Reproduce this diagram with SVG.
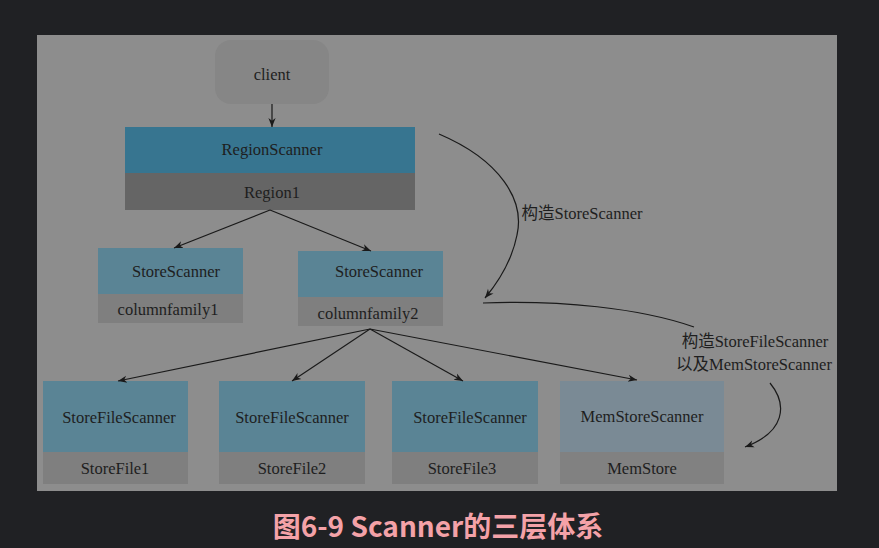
<svg xmlns="http://www.w3.org/2000/svg" width="879" height="548" viewBox="0 0 879 548">
<style>
text{font-family:"Liberation Serif","Times New Roman","Noto Sans CJK SC",serif;font-size:16.5px;fill:#1e1e1e;text-anchor:middle}
.top{fill:#5a8495}
.bot{fill:#7f7f7f}
.e{fill:none;stroke:#1a1a1a;stroke-width:1.2}
.title{font-family:"Noto Sans CJK SC","Noto Sans",sans-serif;font-size:28px;font-weight:bold;fill:#f4a2a8}
</style>
<defs>
<marker id="ah" viewBox="0 0 10 10" refX="10" refY="5" markerWidth="9" markerHeight="9" markerUnits="userSpaceOnUse" orient="auto">
<path d="M0,1 L10,5 L0,9 L3,5 z" fill="#1a1a1a"/>
</marker>
</defs>
<rect width="879" height="548" fill="#202124"/>
<rect x="37" y="35" width="800" height="456" fill="#8d8d8d"/>
<g id="client">
<rect x="215" y="40" width="114" height="64" rx="16" fill="#868686"/>
<text x="272" y="80">client</text>
</g>
<g id="region">
<rect x="125" y="127" width="290" height="46" fill="#377590"/>
<rect x="125" y="173" width="290" height="37" fill="#656565"/>
<text x="272" y="155">RegionScanner</text>
<text x="272" y="198">Region1</text>
</g>
<g id="storescanner1">
<rect class="top" x="98" y="248" width="145" height="46"/>
<rect class="bot" x="98" y="294" width="145" height="29"/>
<text x="176" y="277">StoreScanner</text>
<text x="168" y="315">columnfamily1</text>
</g>
<g id="storescanner2">
<rect class="top" x="298" y="251" width="145" height="46"/>
<rect class="bot" x="298" y="297" width="145" height="29"/>
<text x="379" y="277">StoreScanner</text>
<text x="368" y="319">columnfamily2</text>
</g>
<g id="sfs1">
<rect class="top" x="43" y="381" width="145" height="71"/>
<rect class="bot" x="43" y="452" width="145" height="32"/>
<text x="119" y="423">StoreFileScanner</text>
<text x="115" y="474">StoreFile1</text>
</g>
<g id="sfs2">
<rect class="top" x="219" y="381" width="146" height="71"/>
<rect class="bot" x="219" y="452" width="146" height="32"/>
<text x="292" y="423">StoreFileScanner</text>
<text x="292" y="474">StoreFile2</text>
</g>
<g id="sfs3">
<rect class="top" x="392" y="381" width="146" height="71"/>
<rect class="bot" x="392" y="452" width="146" height="32"/>
<text x="470" y="423">StoreFileScanner</text>
<text x="462" y="474">StoreFile3</text>
</g>
<g id="memstore">
<rect x="560" y="381" width="164" height="71" fill="#7a8a95"/>
<rect x="560" y="452" width="164" height="32" fill="#818181"/>
<text x="642" y="422">MemStoreScanner</text>
<text x="642" y="474">MemStore</text>
</g>
<g id="connectors">
<line class="e" x1="272" y1="104" x2="272" y2="127" marker-end="url(#ah)"/>
<line class="e" x1="270" y1="210" x2="174" y2="248" marker-end="url(#ah)"/>
<line class="e" x1="270" y1="210" x2="371" y2="251" marker-end="url(#ah)"/>
<line class="e" x1="370" y1="329" x2="118" y2="381" marker-end="url(#ah)"/>
<line class="e" x1="370" y1="329" x2="292" y2="381" marker-end="url(#ah)"/>
<line class="e" x1="370" y1="329" x2="463" y2="381" marker-end="url(#ah)"/>
<line class="e" x1="370" y1="329" x2="637" y2="380" marker-end="url(#ah)"/>
<path class="e" d="M439,134 C500,160 525,200 517,235 C512,260 500,280 485,298" marker-end="url(#ah)"/>
<path class="e" d="M483,303 C560,300 640,308 694,327"/>
<path class="e" d="M770,383 C788,405 785,432 745,447" marker-end="url(#ah)"/>
<text x="582" y="219">构造StoreScanner</text>
<text x="755" y="347">构造StoreFileScanner</text>
<text x="754" y="370">以及MemStoreScanner</text>
</g>
<text class="title" x="438" y="537">图6-9 Scanner的三层体系</text>
</svg>
